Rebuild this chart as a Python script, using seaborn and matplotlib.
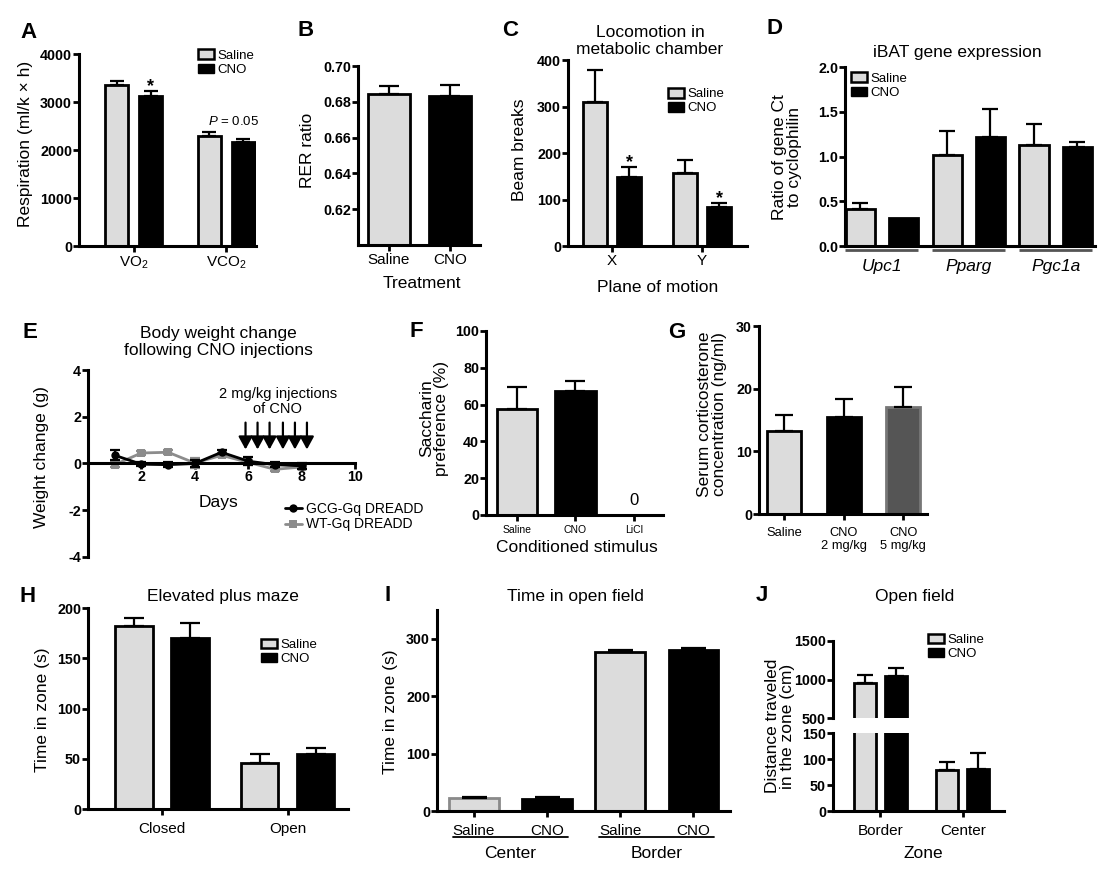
import numpy as np
import pandas as pd
import matplotlib
matplotlib.use("Agg")
import matplotlib.pyplot as plt
import matplotlib.transforms as mtransforms
from matplotlib.patches import Patch
from matplotlib.lines import Line2D
import seaborn as sns

# ================= DATA =================
groups = ["Saline", "CNO"]

# A  Respiration
resp_keys = ["VO2", "VCO2"]
resp_ticklabels = ["VO$_2$", "VCO$_2$"]
resp_saline = [3350, 2300]
resp_saline_sem = [90, 70]
resp_cno = [3130, 2160]
resp_cno_sem = [100, 70]
resp_cno_star = [True, False]
resp_ticks = [0, 1000, 2000, 3000, 4000]

# B  RER
rer_cats = ["Saline", "CNO"]
rer_mean = [0.6845, 0.6835]
rer_sem = [0.0045, 0.006]
rer_ticks = [0.62, 0.64, 0.66, 0.68, 0.70]

# C  Locomotion
loco_cats = ["X", "Y"]
loco_saline = [309, 157]
loco_saline_sem = [70, 29]
loco_cno = [148, 83]
loco_cno_sem = [22, 9]
loco_cno_star = [True, True]
loco_ticks = [0, 100, 200, 300, 400]

# D  iBAT gene expression
gene_cats = ["Upc1", "Pparg", "Pgc1a"]
gene_saline = [0.41, 1.02, 1.13]
gene_saline_sem = [0.07, 0.27, 0.23]
gene_cno = [0.31, 1.22, 1.11]
gene_cno_sem = [0.0, 0.31, 0.055]
gene_ticks = [0.0, 0.5, 1.0, 1.5, 2.0]

# E  Body weight change
days = [1, 2, 3, 4, 5, 6, 7, 8]
gcg_weight = [0.35, -0.03, -0.05, 0.0, 0.48, 0.10, -0.05, -0.10]
gcg_weight_sem = [0.22, 0.08, 0.12, 0.15, 0.08, 0.18, 0.10, 0.12]
wt_weight = [-0.05, 0.45, 0.48, 0.02, 0.35, 0.05, -0.25, -0.15]
wt_weight_sem = [0.10, 0.08, 0.08, 0.22, 0.08, 0.12, 0.08, 0.08]
weight_series = ["GCG-Gq DREADD", "WT-Gq DREADD"]
injection_days = [5.9, 6.35, 6.8, 7.3, 7.75, 8.2]
day_ticks = [2, 4, 6, 8, 10]
weight_ticks = [-4, -2, 0, 2, 4]

# F  Saccharin preference
sacc_cats = ["Saline", "CNO", "LiCl"]
sacc_mean = [57.5, 67.3, 0.0]
sacc_sem = [12.0, 5.6, 0.0]
sacc_ticks = [0, 20, 40, 60, 80, 100]

# G  Serum corticosterone
cort_cats = ["Saline", "CNO\n2 mg/kg", "CNO\n5 mg/kg"]
cort_mean = [13.2, 15.4, 17.1]
cort_sem = [2.6, 3.0, 3.2]
cort_ticks = [0, 10, 20, 30]

# H  Elevated plus maze
epm_cats = ["Closed", "Open"]
epm_saline = [182, 46]
epm_saline_sem = [8, 9]
epm_cno = [170, 55]
epm_cno_sem = [15, 6]
epm_ticks = [0, 50, 100, 150, 200]

# I  Time in open field
oft_keys = ["Center Saline", "Center CNO", "Border Saline", "Border CNO"]
oft_ticklabels = ["Saline", "CNO", "Saline", "CNO"]
oft_zones = ["Center", "Border"]
oft_mean = [22, 21, 277, 280]
oft_sem = [3, 4, 4, 4]
oft_ticks = [0, 100, 200, 300]

# J  Open field distance
dist_cats = ["Border", "Center"]
dist_saline = [952, 79]
dist_saline_sem = [100, 16]
dist_cno = [1039, 80]
dist_cno_sem = [113, 31]
dist_ticks_upper = [500, 1000, 1500]
dist_ticks_lower = [0, 50, 100, 150]

# ================= STYLE =================
sns.set_style("ticks")
plt.rcParams.update({
    "font.family": ["Liberation Sans", "DejaVu Sans"],
    "mathtext.fontset": "custom",
    "mathtext.rm": "Liberation Sans",
    "mathtext.it": "Liberation Sans:italic",
    "mathtext.bf": "Liberation Sans:bold",
    "mathtext.default": "regular",
    "axes.edgecolor": "black",
    "xtick.color": "black",
    "ytick.color": "black",
    "text.color": "black",
})

SAL = "#dcdcdc"
BAR_LW = 2.0
SPINE_LW = 2.2
ERR_LW = 1.6
W, H = 1098, 871

fig = plt.figure(figsize=(W / 100, H / 100), dpi=100)


def add_ax(x0, y0, x1, y1):
    return fig.add_axes([x0 / W, 1 - y1 / H, (x1 - x0) / W, (y1 - y0) / H])


def ftext(x, y, s, **kw):
    kw.setdefault("ha", "center")
    kw.setdefault("va", "center")
    return fig.text(x / W, 1 - y / H, s, **kw)


def letter(x, y, s):
    ftext(x, y, s, fontsize=16, fontweight="bold")


def style(ax, yticks, ylabels=None, xfs=11, ylim=None, xlen=4, xpad=2):
    sns.despine(ax=ax)
    for sp in ["left", "bottom"]:
        ax.spines[sp].set_linewidth(SPINE_LW)
    if ylim is not None:
        ax.set_ylim(*ylim)
    ax.set_yticks(yticks)
    if ylabels is None:
        ylabels = [str(t) for t in yticks]
    ax.set_yticklabels(ylabels, fontweight="bold", fontsize=10.3)
    ax.tick_params(axis="y", width=2, length=4, pad=1)
    ax.tick_params(axis="x", width=2, length=xlen, pad=xpad, labelsize=xfs)
    ax.set_xlabel("")
    ax.set_ylabel("")


def add_err(ax, bars, sems, capsize):
    xs, ys, es = [], [], []
    for b, s in zip(bars, sems):
        if s > 0:
            xs.append(b.get_x() + b.get_width() / 2)
            ys.append(b.get_height())
            es.append(s)
    ax.errorbar(xs, ys, yerr=[np.zeros(len(es)), es], fmt="none", ecolor="black",
                elinewidth=ERR_LW, capsize=capsize, capthick=ERR_LW, zorder=4)


def grouped_bars(ax, cats, sal, cno, sal_sem, cno_sem, width, gap, capsize):
    df = pd.DataFrame({"cat": list(cats) * 2,
                       "grp": ["Saline"] * len(cats) + ["CNO"] * len(cats),
                       "val": list(sal) + list(cno)})
    sns.barplot(data=df, x="cat", y="val", hue="grp", order=cats, hue_order=groups,
                palette={"Saline": SAL, "CNO": "black"}, edgecolor="black",
                linewidth=BAR_LW, width=width, gap=gap, saturation=1,
                errorbar=None, legend=False, ax=ax)
    bars = sorted(ax.patches, key=lambda p: p.get_x())
    sems = [s for pair in zip(sal_sem, cno_sem) for s in pair]
    add_err(ax, bars, sems, capsize)
    return bars


def single_bars(ax, cats, vals, sems, colors, edges, width, capsize):
    df = pd.DataFrame({"cat": cats, "val": vals})
    sns.barplot(data=df, x="cat", y="val", hue="cat", order=cats, hue_order=cats,
                palette=dict(zip(cats, colors)), edgecolor="black", linewidth=BAR_LW,
                width=width, saturation=1, errorbar=None, legend=False, ax=ax)
    bars = sorted(ax.patches, key=lambda p: p.get_x())
    for b, e in zip(bars, edges):
        b.set_edgecolor(e)
    add_err(ax, bars, sems, capsize)
    return bars


def bar_legend(ax, x, y, fs=9.5):
    handles = [Patch(facecolor=SAL, edgecolor="black", linewidth=1.8, label="Saline"),
               Patch(facecolor="black", edgecolor="black", label="CNO")]
    ax.legend(handles=handles, loc="upper left", bbox_to_anchor=(x / W, 1 - y / H),
              bbox_transform=fig.transFigure, frameon=False, fontsize=fs,
              borderpad=0, borderaxespad=0, handletextpad=0.25, labelspacing=0.12,
              handlelength=1.25, handleheight=0.75)


def stars(ax, bars, flags, offset=0):
    for b, f, s in zip(bars, flags, offset):
        if f:
            ax.text(b.get_x() + b.get_width() / 2, b.get_height() + s, "*",
                    ha="center", va="baseline", fontsize=13, fontweight="bold")


# ================= A =================
axA = add_ax(79, 54, 256, 246)
barsA = grouped_bars(axA, resp_keys, resp_saline, resp_cno, resp_saline_sem,
                     resp_cno_sem, 0.74, 0.32, 5.2)
style(axA, resp_ticks, ylim=(0, 4000))
axA.set_xlim(-0.59, 1.32)
axA.set_xticks(range(len(resp_keys)), resp_ticklabels)
stars(axA, barsA[1::2], resp_cno_star, resp_cno_sem)
axA.text(1.08, 2590, "$\\it{P}$ = 0.05", ha="center", va="center", fontsize=9.5)
bar_legend(axA, 198, 49.5)
ftext(26, 144, "Respiration (ml/k × h)", rotation=90, fontsize=12.5)
letter(28, 32, "A")

# ================= B =================
axB = add_ax(358, 66, 480, 245)
single_bars(axB, rer_cats, rer_mean, rer_sem, [SAL, "black"], ["black", "black"], 0.70, 7.0)
style(axB, rer_ticks, [f"{t:.2f}" for t in rer_ticks], ylim=(0.6, 0.7))
axB.set_xlim(-0.508, 1.49)
ftext(308, 150, "RER ratio", rotation=90, fontsize=12.5)
ftext(422, 283, "Treatment", fontsize=12.5)
letter(306, 30, "B")

# ================= C =================
axC = add_ax(568, 60, 747, 246)
barsC = grouped_bars(axC, loco_cats, loco_saline, loco_cno, loco_saline_sem,
                     loco_cno_sem, 0.756, 0.29, 5.5)
style(axC, loco_ticks, ylim=(0, 400))
axC.set_xlim(-0.489, 1.5)
stars(axC, barsC[1::2], loco_cno_star, loco_cno_sem)
bar_legend(axC, 668, 88)
ftext(650, 41, "Locomotion in\nmetabolic chamber", fontsize=12.5, linespacing=1.1)
ftext(520, 150, "Beam breaks", rotation=90, fontsize=12.5)
ftext(658, 287, "Plane of motion", fontsize=12.5)
letter(510, 30, "C")

# ================= D =================
axD = add_ax(845, 67, 1095, 246)
grouped_bars(axD, gene_cats, gene_saline, gene_cno, gene_saline_sem, gene_cno_sem,
             0.99, 0.31, 6.0)
style(axD, gene_ticks, [f"{t:.1f}" for t in gene_ticks], ylim=(0, 2.0), xfs=12.5,
      xlen=0, xpad=9)
axD.set_xlim(-0.425, 2.45)
for t in axD.get_xticklabels():
    t.set_fontstyle("italic")
trD = mtransforms.blended_transform_factory(axD.transData, axD.transAxes)
for i in range(len(gene_cats)):
    axD.plot([i - 0.42, i + 0.42], [-0.025, -0.025], transform=trD, color="#555555",
             lw=2, clip_on=False, solid_capstyle="butt")
bar_legend(axD, 851, 72.5)
ftext(957, 53, "iBAT gene expression", fontsize=12.5)
ftext(787, 157, "Ratio of gene Ct\nto cyclophilin", rotation=90, fontsize=12.5,
      linespacing=1.05)
letter(775, 28, "D")

# ================= E =================
axE = add_ax(88, 370, 355, 557)
dfE = pd.DataFrame({"day": days * 2,
                    "weight": gcg_weight + wt_weight,
                    "series": [weight_series[0]] * len(days) + [weight_series[1]] * len(days)})
e_pal = {weight_series[0]: "black", weight_series[1]: "#8c8c8c"}
sns.lineplot(data=dfE, x="day", y="weight", hue="series",
             hue_order=[weight_series[1], weight_series[0]], palette=e_pal,
             style="series", markers={weight_series[0]: "o", weight_series[1]: "s"},
             dashes=False, markersize=6, linewidth=2, markeredgewidth=0,
             errorbar=None, legend=False, ax=axE)
axE.errorbar(days, wt_weight, yerr=wt_weight_sem, fmt="none", ecolor="#8c8c8c",
             elinewidth=1.6, capsize=3.5, capthick=1.6, zorder=1.5)
axE.errorbar(days, gcg_weight, yerr=gcg_weight_sem, fmt="none", ecolor="black",
             elinewidth=1.6, capsize=3.5, capthick=1.6, zorder=2.5)
sns.despine(ax=axE)
axE.set_xlim(0, 10)
axE.set_ylim(-4, 4)
axE.spines["bottom"].set_position(("data", 0))
for sp in ["left", "bottom"]:
    axE.spines[sp].set_linewidth(SPINE_LW)
axE.set_xticks(day_ticks)
axE.set_xticklabels([str(d) for d in day_ticks], fontweight="bold", fontsize=10.3)
axE.set_yticks(weight_ticks)
axE.set_yticklabels([str(w) for w in weight_ticks], fontweight="bold", fontsize=10.3)
axE.tick_params(axis="both", width=2, length=4, pad=1)
axE.set_xlabel("")
axE.set_ylabel("")
for d in injection_days:
    axE.annotate("", xy=(d, 0.6), xytext=(d, 1.75),
                 arrowprops=dict(arrowstyle="-|>,head_width=0.3,head_length=0.55",
                                 lw=1.6, color="black", shrinkA=0, shrinkB=0,
                                 mutation_scale=14))
axE.text(7.1, 2.65, "2 mg/kg injections\nof CNO", ha="center", va="center",
         fontsize=10.5, linespacing=1.1)
e_handles = [Line2D([], [], color="black", marker="o", lw=2, ms=6, mew=0,
                    label=weight_series[0]),
             Line2D([], [], color="#8c8c8c", marker="s", lw=2, ms=6, mew=0,
                    label=weight_series[1])]
axE.legend(handles=e_handles, loc="upper left", bbox_to_anchor=(285 / W, 1 - 502 / H),
           bbox_transform=fig.transFigure, frameon=False, fontsize=10,
           borderpad=0, borderaxespad=0, handletextpad=0.3, labelspacing=0.1,
           handlelength=1.2)
ftext(218, 342, "Body weight change\nfollowing CNO injections", fontsize=12.5,
      linespacing=1.1)
ftext(218, 502, "Days", fontsize=12.5)
ftext(42, 457, "Weight change (g)", rotation=90, fontsize=12.5)
letter(30, 333, "E")

# ================= F =================
axF = add_ax(486, 331, 663, 515)
single_bars(axF, sacc_cats, sacc_mean, sacc_sem, [SAL, "black", "black"],
            ["black", "black", "black"], 0.70, 7.5)
style(axF, sacc_ticks, ylim=(0, 100), xfs=7.5, xpad=3)
axF.set_xlim(-0.53, 2.5)
axF.text(2, 8, "0", ha="center", va="center", fontsize=12)
ftext(577, 548, "Conditioned stimulus", fontsize=12.5)
ftext(434, 418, "Saccharin\npreference (%)", rotation=90, fontsize=12.5,
      linespacing=1.05)
letter(416, 331, "F")

# ================= G =================
axG = add_ax(759, 326, 927, 514)
single_bars(axG, cort_cats, cort_mean, cort_sem, [SAL, "black", "#555555"],
            ["black", "black", "#777777"], 0.57, 6.5)
style(axG, cort_ticks, ylim=(0, 30), xfs=9.3, xpad=5)
axG.set_xlim(-0.42, 2.40)
ftext(712, 414, "Serum corticosterone\nconcentration (ng/ml)", rotation=90,
      fontsize=12.5, linespacing=1.05)
letter(677, 333, "G")

# ================= H =================
axH = add_ax(88, 608, 348, 809)
grouped_bars(axH, epm_cats, epm_saline, epm_cno, epm_saline_sem, epm_cno_sem,
             0.89, 0.33, 7.0)
style(axH, epm_ticks, ylim=(0, 200), xpad=5)
axH.set_xlim(-0.59, 1.48)
bar_legend(axH, 261, 638.5)
ftext(223, 597, "Elevated plus maze", fontsize=12.5)
ftext(42, 710, "Time in zone (s)", rotation=90, fontsize=12.5)
letter(28, 597, "H")

# ================= I =================
axI = add_ax(437, 610, 730, 811)
single_bars(axI, oft_keys, oft_mean, oft_sem, [SAL, "black", SAL, "black"],
            ["#8a8a8a", "black", "black", "black"], 0.68, 9.0)
style(axI, oft_ticks, ylim=(0, 350), xpad=5)
axI.set_xlim(-0.505, 3.5)
axI.set_xticks(range(len(oft_keys)), oft_ticklabels)
trI = mtransforms.blended_transform_factory(axI.transData, axI.transAxes)
for z, zone in enumerate(oft_zones):
    c = 2 * z + 0.5
    axI.plot([c - 0.79, c + 0.78], [-0.13, -0.13], transform=trI, color="black",
             lw=1.3, clip_on=False)
    axI.text(c, -0.21, zone, transform=trI, ha="center", va="center", fontsize=12.5)
ftext(575, 597, "Time in open field", fontsize=12.5)
ftext(390, 712, "Time in zone (s)", rotation=90, fontsize=12.5)
letter(388, 595, "I")

# ================= J =================
axJu = add_ax(833, 641, 1004, 718)
axJl = add_ax(833, 733, 1004, 811)
for ax in (axJu, axJl):
    grouped_bars(ax, dist_cats, dist_saline, dist_cno, dist_saline_sem, dist_cno_sem,
                 0.75, 0.29, 5.5)
    ax.set_xlim(-0.576, 1.5)
style(axJu, dist_ticks_upper, ylim=(500, 1500))
style(axJl, dist_ticks_lower, ylim=(0, 150), xpad=5)
axJu.spines["bottom"].set_visible(False)
axJu.tick_params(axis="x", length=0, labelbottom=False)
bar_legend(axJu, 928, 633.5)
ftext(915, 597, "Open field", fontsize=12.5)
ftext(923, 853, "Zone", fontsize=12.5)
ftext(780, 726, "Distance traveled\nin the zone (cm)", rotation=90, fontsize=12.5,
      linespacing=1.05)
letter(762, 595, "J")

fig.savefig("out.png", dpi=100)
